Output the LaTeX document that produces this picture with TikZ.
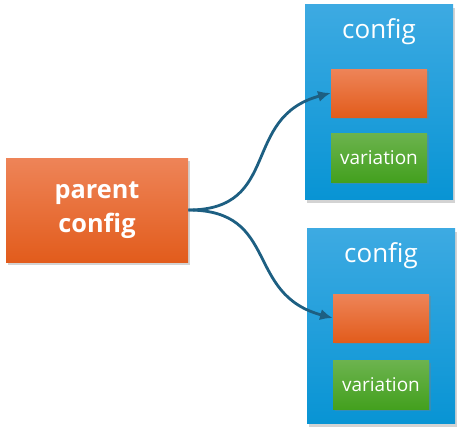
\documentclass[tikz,border=0pt]{standalone}
\usepackage{fontspec}
\setmainfont{Open Sans}
\usetikzlibrary{shadows,positioning,calc}
\usetikzlibrary{arrows.meta}
\definecolor{orTop}{HTML}{EE8458}
\definecolor{orBot}{HTML}{E25C1C}
\definecolor{blTop}{HTML}{3DAAE2}
\definecolor{blBot}{HTML}{0894D4}
\definecolor{grTop}{HTML}{6CB34E}
\definecolor{grBot}{HTML}{43A01E}
\definecolor{link}{HTML}{1D5F82}
\tikzstyle{parentbox} = [rectangle, minimum width=4.55cm, minimum height=2.6cm, text centered,
top color=orTop, bottom color=orBot, text=white, font=\bfseries\fontsize{18}{24}\selectfont,
align=center, drop shadow={shadow xshift=.05cm, shadow yshift=-.07cm, opacity=.35}]
\tikzstyle{configbox} = [rectangle, minimum width=3.7cm, minimum height=4.875cm,
top color=blTop, bottom color=blBot, drop shadow={shadow xshift=.05cm, shadow yshift=-.07cm, opacity=.35}]
\tikzstyle{slot} = [rectangle, minimum width=2.4cm, minimum height=1.2cm,
top color=orTop, bottom color=orBot, drop shadow={shadow xshift=.04cm, shadow yshift=-.05cm, opacity=.35}]
\tikzstyle{variation} = [rectangle, minimum width=2.4cm, minimum height=1.22cm, text=white,
top color=grTop, bottom color=grBot, font=\fontsize{13.5}{15}\selectfont,
drop shadow={shadow xshift=.04cm, shadow yshift=-.05cm, opacity=.35}]
\tikzstyle{title} = [text=white, font=\fontsize{18.5}{21}\selectfont]
\tikzstyle{arrow} = [line width=2pt, draw=link, -{Latex[length=9pt,width=8pt]}]

\begin{document}
\begin{tikzpicture}
\useasboundingbox (0,0) rectangle (11.5,10.9);
\node (p) at (2.425,5.65) [parentbox] {parent\\config};
\node (c1) at (9.475,8.34) [configbox] {};
\node (t1) at (9.475,10.12) [title] {config};
\node (s1) at (9.475,8.575) [slot] {};
\node (v1) at (9.475,6.96) [variation] {variation};
\node (c2) at (9.525,2.74) [configbox] {};
\node (t2) at (9.525,4.52) [title] {config};
\node (s2) at (9.525,2.95) [slot] {};
\node (v2) at (9.525,1.275) [variation] {variation};
\draw[arrow] (p.east) to[out=0, in=195, looseness=1.3] (s1.west);
\draw[arrow] (p.east) to[out=0, in=165, looseness=1.3] (s2.west);
\end{tikzpicture}
\end{document}
